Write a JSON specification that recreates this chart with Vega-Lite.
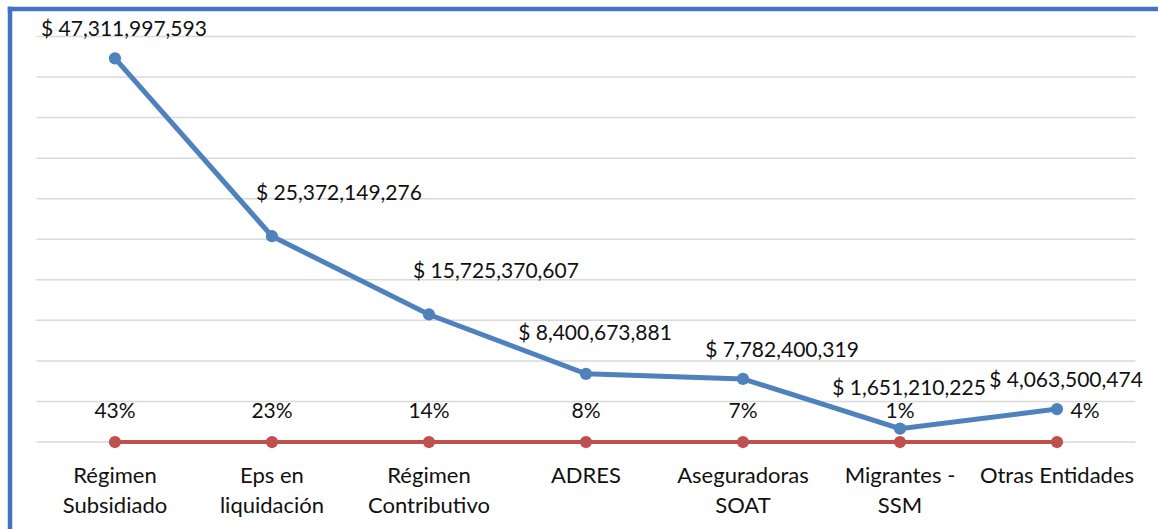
{
  "$schema": "https://vega.github.io/schema/vega-lite/v6.json",
  "width": 1148.5,
  "height": 520.5,
  "autosize": {"type": "none"},
  "padding": {"left": 9.5, "top": 8.5, "right": 0, "bottom": 0},
  "background": "white",
  "config": {
    "view": {"stroke": null},
    "font": "Lato",
    "locale": {"number": {"decimal": ".", "thousands": ",", "grouping": [3], "currency": ["$ ", ""]}}
  },
  "datasets": {
    "rows": [
      {"categoria": "Régimen Subsidiado", "valor": 47311997593, "pct": 0.43},
      {"categoria": "Eps en liquidación", "valor": 25372149276, "pct": 0.23},
      {"categoria": "Régimen Contributivo", "valor": 15725370607, "pct": 0.14},
      {"categoria": "ADRES", "valor": 8400673881, "pct": 0.08},
      {"categoria": "Aseguradoras SOAT", "valor": 7782400319, "pct": 0.07},
      {"categoria": "Migrantes - SSM", "valor": 1651210225, "pct": 0.01},
      {"categoria": "Otras Entidades", "valor": 4063500474, "pct": 0.04}
    ],
    "grid": [
      {"v": 0}, {"v": 5000000000}, {"v": 10000000000}, {"v": 15000000000},
      {"v": 20000000000}, {"v": 25000000000}, {"v": 30000000000}, {"v": 35000000000},
      {"v": 40000000000}, {"v": 45000000000}, {"v": 50000000000}
    ]
  },
  "resolve": {"axis": {"x": "independent", "y": "independent"}},
  "layer": [
    {
      "data": {"name": "grid"},
      "mark": {"type": "rule", "color": "#D9D9D9", "strokeWidth": 1.5},
      "encoding": {
        "y": {
          "field": "v", "type": "quantitative",
          "scale": {"domain": [-10727000000, 53452500000], "nice": false, "zero": false},
          "axis": {"orient": "left", "domain": true, "domainColor": "#4472C4", "domainWidth": 4.5, "domainCap": "square", "labels": false, "ticks": false, "grid": false, "title": null}
        },
        "x": {
          "datum": "Régimen Subsidiado", "type": "nominal", "bandPosition": 0,
          "scale": {
            "type": "band",
            "domain": ["Régimen Subsidiado", "Eps en liquidación", "Régimen Contributivo", "ADRES", "Aseguradoras SOAT", "Migrantes - SSM", "Otras Entidades"],
            "paddingInner": 0, "paddingOuter": 0.1576, "align": 0.545
          },
          "axis": {"orient": "top", "domain": true, "domainColor": "#4472C4", "domainWidth": 4.5, "domainCap": "square", "labels": false, "ticks": false, "grid": false, "title": null}
        },
        "x2": {"datum": "Otras Entidades", "bandPosition": 1}
      }
    },
    {
      "data": {"name": "rows"},
      "mark": {"type": "line", "color": "#C0504D", "strokeWidth": 4, "point": {"filled": true, "size": 150, "color": "#C0504D"}},
      "encoding": {
        "x": {
          "field": "categoria", "type": "nominal", "sort": null,
          "axis": {
            "orient": "bottom", "offset": -87, "domain": false, "ticks": false, "tickSize": 0, "grid": false, "title": null,
            "labelAngle": 0, "labelFont": "Lato", "labelFontSize": 22, "labelColor": "#111111",
            "labelPadding": 23, "labelBaseline": "top", "labelLineHeight": 30, "labelLimit": 400,
            "labelExpr": "datum.label != 'Otras Entidades' && lastindexof(datum.label, ' ') > 0 ? [substring(datum.label, 0, lastindexof(datum.label, ' ')), substring(datum.label, lastindexof(datum.label, ' ') + 1)] : datum.label"
          }
        },
        "y": {"field": "pct", "type": "quantitative", "axis": null}
      }
    },
    {
      "data": {"name": "rows"},
      "mark": {"type": "line", "color": "#4F81BD", "strokeWidth": 5, "point": {"filled": true, "size": 150, "color": "#4F81BD"}},
      "encoding": {
        "x": {"field": "categoria", "type": "nominal", "sort": null, "axis": null},
        "y": {"field": "valor", "type": "quantitative", "axis": null}
      }
    },
    {
      "data": {"name": "rows"},
      "transform": [{"filter": {"not": {"field": "categoria", "equal": "Otras Entidades"}}}],
      "mark": {"type": "text", "font": "Lato", "fontSize": 21, "color": "#111111", "baseline": "middle", "dy": -30},
      "encoding": {
        "x": {"field": "categoria", "type": "nominal", "sort": null, "axis": null},
        "y": {"field": "pct", "type": "quantitative", "axis": null},
        "text": {"field": "pct", "type": "quantitative", "format": ".0%"}
      }
    },
    {
      "data": {"name": "rows"},
      "transform": [{"filter": {"field": "categoria", "equal": "Otras Entidades"}}],
      "mark": {"type": "text", "font": "Lato", "fontSize": 21, "color": "#111111", "baseline": "middle", "dy": -30, "dx": 28},
      "encoding": {
        "x": {"field": "categoria", "type": "nominal", "sort": null, "axis": null},
        "y": {"field": "pct", "type": "quantitative", "axis": null},
        "text": {"field": "pct", "type": "quantitative", "format": ".0%"}
      }
    },
    {
      "data": {"name": "rows"},
      "transform": [{"filter": {"field": "categoria", "oneOf": ["Régimen Subsidiado", "Otras Entidades"]}}],
      "mark": {"type": "text", "font": "Lato", "fontSize": 21, "color": "#111111", "baseline": "middle", "dy": -28, "dx": 9},
      "encoding": {
        "x": {"field": "categoria", "type": "nominal", "sort": null, "axis": null},
        "y": {"field": "valor", "type": "quantitative", "axis": null},
        "text": {"field": "valor", "type": "quantitative", "format": "$,"}
      }
    },
    {
      "data": {"name": "rows"},
      "transform": [{"filter": {"field": "categoria", "oneOf": ["ADRES", "Migrantes - SSM"]}}],
      "mark": {"type": "text", "font": "Lato", "fontSize": 21, "color": "#111111", "baseline": "middle", "dy": -40, "dx": 9},
      "encoding": {
        "x": {"field": "categoria", "type": "nominal", "sort": null, "axis": null},
        "y": {"field": "valor", "type": "quantitative", "axis": null},
        "text": {"field": "valor", "type": "quantitative", "format": "$,"}
      }
    },
    {
      "data": {"name": "rows"},
      "transform": [{"filter": {"field": "categoria", "oneOf": ["Eps en liquidación", "Régimen Contributivo"]}}],
      "mark": {"type": "text", "font": "Lato", "fontSize": 21, "color": "#111111", "baseline": "middle", "dy": -42, "dx": 67},
      "encoding": {
        "x": {"field": "categoria", "type": "nominal", "sort": null, "axis": null},
        "y": {"field": "valor", "type": "quantitative", "axis": null},
        "text": {"field": "valor", "type": "quantitative", "format": "$,"}
      }
    },
    {
      "data": {"name": "rows"},
      "transform": [{"filter": {"field": "categoria", "equal": "Aseguradoras SOAT"}}],
      "mark": {"type": "text", "font": "Lato", "fontSize": 21, "color": "#111111", "baseline": "middle", "dy": -28, "dx": 39},
      "encoding": {
        "x": {"field": "categoria", "type": "nominal", "sort": null, "axis": null},
        "y": {"field": "valor", "type": "quantitative", "axis": null},
        "text": {"field": "valor", "type": "quantitative", "format": "$,"}
      }
    }
  ]
}
